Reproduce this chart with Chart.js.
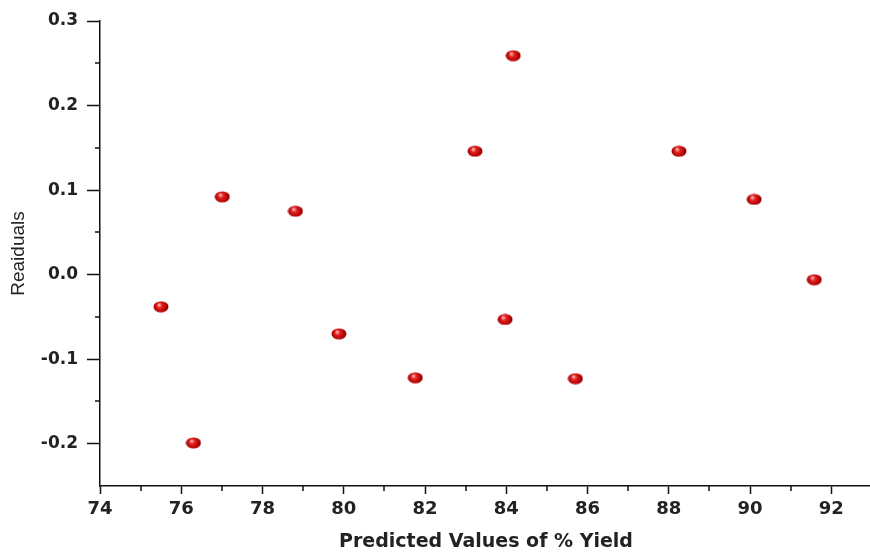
<!DOCTYPE html>
<html>
<head>
<meta charset="utf-8">
<script src="https://cdn.jsdelivr.net/npm/chart.js@4"></script>
<style>
  html, body { margin: 0; padding: 0; background: #fff; overflow: hidden; }
  #wrap { width: 870px; height: 554px; overflow: hidden; }
</style>
</head>
<body>
<div id="wrap"><canvas id="residuals" width="880" height="554"></canvas></div>
<script>
// predicted values (x) and residuals (y)
const predicted = [75.50, 76.30, 77.01, 78.81, 79.88, 81.76, 83.23, 84.17, 83.97, 85.70, 88.25, 90.10, 91.58];
const residuals = [-0.038, -0.199, 0.092, 0.075, -0.070, -0.122, 0.146, 0.259, -0.053, -0.123, 0.146, 0.089, -0.006];

const xTickLabels = ['74', '76', '78', '80', '82', '84', '86', '88', '90', '92'];
const yTickLabels = ['-0.2', '-0.1', '0.0', '0.1', '0.2', '0.3'];
const xMinorTicks = [75, 77, 79, 81, 83, 85, 87, 89, 91, 93];
const yMinorTicks = [-0.15, -0.05, 0.05, 0.15, 0.25];

// shaded red ball used as the point marker
function makeBall() {
    const c = document.createElement('canvas');
    c.width = 16; c.height = 12;
    const g = c.getContext('2d');
    const grad = g.createRadialGradient(6, 4, 0.5, 8, 6, 8);
    grad.addColorStop(0, '#ffb0b0');
    grad.addColorStop(0.3, '#e02020');
    grad.addColorStop(0.75, '#b00000');
    grad.addColorStop(1, '#700000');
    g.fillStyle = grad;
    g.beginPath();
    g.ellipse(8, 6, 7.5, 5.5, 0, 0, Math.PI * 2);
    g.fill();
    return c;
}

// label only the values listed in the tick label arrays
function isLabelled(v, labels, digits) {
    const scaled = v * Math.pow(10, digits);
    if (Math.abs(scaled - Math.round(scaled)) > 1e-6) return '';
    const s = (Math.round(scaled) / Math.pow(10, digits)).toFixed(digits);
    return labels.indexOf(s) >= 0 ? s : '';
}

// short minor ticks
const minorTicks = {
    id: 'minorTicks',
    afterDraw(chart) {
        const ctx = chart.ctx;
        const x = chart.scales.x, y = chart.scales.y;
        ctx.save();
        ctx.strokeStyle = '#111';
        ctx.lineWidth = 1.5;
        ctx.beginPath();
        xMinorTicks.forEach(v => {
            const px = Math.round(x.getPixelForValue(v));
            ctx.moveTo(px, x.top);
            ctx.lineTo(px, x.top + 5);
        });
        yMinorTicks.forEach(v => {
            const py = Math.round(y.getPixelForValue(v));
            ctx.moveTo(y.right, py);
            ctx.lineTo(y.right - 5, py);
        });
        ctx.stroke();
        ctx.restore();
    }
};

const ctx = document.getElementById('residuals').getContext('2d');
new Chart(ctx, {
    type: 'scatter',
    data: {
        datasets: [{
            label: 'Residuals',
            data: predicted.map((p, i) => ({ x: p, y: residuals[i] })),
            pointStyle: makeBall(),
            pointRadius: 7,
            pointHoverRadius: 7
        }]
    },
    options: {
        responsive: false,
        animation: false,
        layout: { padding: { top: 21, right: 5, left: 0, bottom: 0 } },
        plugins: {
            legend: { display: false },
            tooltip: { enabled: false }
        },
        scales: {
            x: {
                type: 'linear',
                min: 74,
                max: 93,
                afterFit: s => { s.height = 68; },
                ticks: {
                    stepSize: 1,
                    autoSkip: false,
                    maxRotation: 0,
                    padding: 5,
                    color: '#222',
                    font: { family: 'DejaVu Sans', weight: 'bold', size: 18 },
                    callback: v => isLabelled(v, xTickLabels, 0)
                },
                grid: {
                    drawOnChartArea: false,
                    drawTicks: true,
                    tickLength: 8,
                    tickWidth: 1.5,
                    tickColor: c => isLabelled(c.tick.value, xTickLabels, 0) ? '#111' : 'rgba(0,0,0,0)'
                },
                border: { display: true, color: '#111', width: 1.5 },
                title: {
                    display: true,
                    text: 'Predicted Values of % Yield',
                    color: '#222',
                    font: { family: 'DejaVu Sans', weight: 'bold', size: 19 },
                    padding: { top: 0, bottom: 1 }
                }
            },
            y: {
                type: 'linear',
                min: -0.25,
                max: 0.3,
                afterFit: s => { s.width = 100; },
                ticks: {
                    stepSize: 0.05,
                    autoSkip: false,
                    padding: 9,
                    color: '#222',
                    font: { family: 'DejaVu Sans', weight: 'bold', size: 17 },
                    callback: v => isLabelled(v, yTickLabels, 1)
                },
                grid: {
                    drawOnChartArea: false,
                    drawTicks: true,
                    tickLength: 13,
                    tickWidth: 1.5,
                    tickColor: c => isLabelled(c.tick.value, yTickLabels, 1) ? '#111' : 'rgba(0,0,0,0)'
                },
                border: { display: true, color: '#111', width: 1.5 },
                title: {
                    display: true,
                    text: 'Reaiduals',
                    color: '#222',
                    font: { family: 'Liberation Sans', size: 19 },
                    padding: { top: 7, bottom: 0 }
                }
            }
        }
    },
    plugins: [minorTicks]
});
</script>
</body>
</html>
